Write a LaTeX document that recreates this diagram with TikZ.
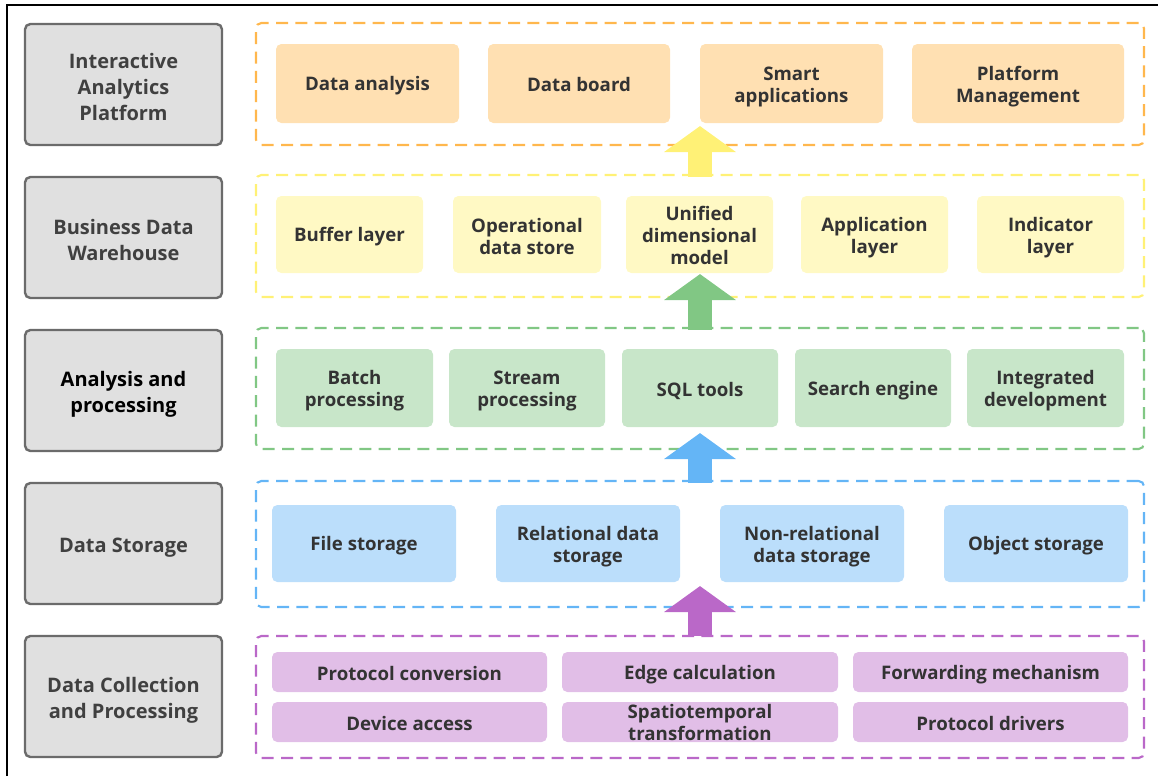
\documentclass[tikz,border=0pt]{standalone}
\usepackage{fontspec}
\setmainfont{Open Sans}
\usetikzlibrary{arrows.meta}
\definecolor{txt}{HTML}{333333}
\definecolor{ltxt}{HTML}{404040}
\definecolor{grayfill}{HTML}{E0E0E0}
\definecolor{grayline}{HTML}{6B6B6B}
\definecolor{ofill}{HTML}{FFE0B2}
\definecolor{oline}{HTML}{FFB74D}
\definecolor{yfill}{HTML}{FFF9C4}
\definecolor{yline}{HTML}{FFF176}
\definecolor{gfill}{HTML}{C8E6C9}
\definecolor{gline}{HTML}{81C784}
\definecolor{bfill}{HTML}{BBDEFB}
\definecolor{bline}{HTML}{64B5F6}
\definecolor{pfill}{HTML}{E1BEE7}
\definecolor{pline}{HTML}{BA68C8}
\newcommand\mystrut{\rule[-0.12\baselineskip]{0pt}{\baselineskip}}
% box node plus its text node, optional vertical offset of the text
\newcommand\pbox[8][0pt]{%
  \node[#3, minimum width={(#6-#4)*0.75pt}, minimum height={(#7-#5)*0.75pt}] (#2) at ({(#4+#6)/2},{(#5+#7)/2}) {};
  \node[#3, draw=none, fill=none] (#2t) at ([yshift=#1]#2.center) {#8};}
\newcommand\pframe[6]{%
  \node[#2, minimum width={(#5-#3)*0.75pt}, minimum height={(#6-#4)*0.75pt}] (#1) at ({(#3+#5)/2},{(#4+#6)/2}) {};}
\tikzset{
  x=0.75pt, y=-0.75pt,
  layerbox/.style={draw=grayline, line width=1.8pt, fill=grayfill, rounded corners=4pt, inner sep=0pt,
    align=center, text=ltxt, font=\fontsize{15}{19.5}\selectfont\bfseries,
    execute at begin node=\mystrut, execute at end node=\mystrut},
  frame/.style={draw=#1, line width=1.6pt, dash pattern=on 9pt off 5.5pt, rounded corners=4pt, inner sep=0pt},
  inner/.style={fill=#1, rounded corners=4pt, inner sep=0pt, align=center, text=txt,
    font=\fontsize{14}{16.5}\selectfont\bfseries,
    execute at begin node=\mystrut, execute at end node=\mystrut},
  uparrow/.style={draw=#1, line width=18pt, -{Triangle[width=53pt, length=19.5pt, fill=#1]}},
}
\begin{document}
\begin{tikzpicture}
\useasboundingbox (0,0) rectangle (1158,776);
\draw[line width=2pt] (7,776) -- (7,5) -- (1158,5);
% left labels
\pbox[-2.6pt]{l1}{layerbox}{25}{24}{222}{145}{Interactive\\Analytics\\Platform}
\pbox[-2.6pt]{l2}{layerbox}{25}{177}{222}{298}{Business Data\\Warehouse}
\pbox[-2.6pt]{l3}{layerbox, text=black}{25}{330}{222}{451}{Analysis and\\processing}
\pbox{l4}{layerbox}{25}{483}{222}{604}{Data Storage}
\pbox[-2.6pt]{l5}{layerbox}{25}{636}{222}{757}{Data Collection\\and Processing}
% frames
\pframe{f1}{frame=oline}{256}{23}{1144}{145}
\pframe{f2}{frame=yline}{256}{175}{1144}{297}
\pframe{f3}{frame=gline}{256}{328}{1144}{449}
\pframe{f4}{frame=bline}{256}{481}{1144}{607}
\pframe{f5}{frame=pline}{256}{636}{1144}{758}
% row 1
\pbox{a1}{inner=ofill}{276}{44}{459}{123}{Data analysis}
\pbox{a2}{inner=ofill}{488}{44}{670}{123}{Data board}
\pbox[-2.25pt]{a3}{inner=ofill}{700}{44}{883}{123}{Smart\\applications}
\pbox[-2.25pt]{a4}{inner=ofill}{912}{44}{1124}{123}{Platform\\Management}
% row 2
\pbox{b1}{inner=yfill}{276}{196}{423}{273}{Buffer layer}
\pbox[-2.25pt]{b2}{inner=yfill}{453}{196}{601}{273}{Operational\\data store}
\pbox[-1.5pt]{b3}{inner=yfill}{626}{196}{773}{273}{Unified\\dimensional\\model}
\pbox[-2.25pt]{b4}{inner=yfill}{801}{196}{948}{273}{Application\\layer}
\pbox[-2.25pt]{b5}{inner=yfill}{977}{196}{1124}{273}{Indicator\\layer}
% row 3
\pbox[-2.25pt]{c1}{inner=gfill}{276}{349}{433}{427}{Batch\\processing}
\pbox[-2.25pt]{c2}{inner=gfill}{449}{349}{605}{427}{Stream\\processing}
\pbox{c3}{inner=gfill}{622}{349}{778}{427}{SQL tools}
\pbox{c4}{inner=gfill}{795}{349}{951}{427}{Search engine}
\pbox[-2.25pt]{c5}{inner=gfill}{967}{349}{1124}{427}{Integrated\\development}
% row 4
\pbox{d1}{inner=bfill}{272}{505}{456}{582}{File storage}
\pbox[-2.25pt]{d2}{inner=bfill}{496}{505}{680}{582}{Relational data\\storage}
\pbox[-2.25pt]{d3}{inner=bfill}{720}{505}{904}{582}{Non-relational\\data storage}
\pbox{d4}{inner=bfill}{944}{505}{1128}{582}{Object storage}
% row 5
\pbox{e1}{inner=pfill}{272}{652}{547}{692}{Protocol conversion}
\pbox{e2}{inner=pfill}{562}{652}{838}{692}{Edge calculation}
\pbox{e3}{inner=pfill}{853}{652}{1128}{692}{Forwarding mechanism}
\pbox{e4}{inner=pfill}{272}{702}{547}{742}{Device access}
\pbox[-1.5pt]{e5}{inner=pfill}{562}{702}{838}{742}{Spatiotemporal\\transformation}
\pbox{e6}{inner=pfill}{853}{702}{1128}{742}{Protocol drivers}
% arrows
\draw[uparrow=yline] ([yshift=-2.25pt]f2.north) -- ([yshift=15pt]f1.south);
\draw[uparrow=gline] ([yshift=-2.25pt]f3.north) -- ([yshift=18pt]f2.south);
\draw[uparrow=bline] ([yshift=-2.25pt]f4.north) -- ([yshift=12.75pt]f3.south);
\draw[uparrow=pline] ([yshift=-0.75pt]f5.north) -- ([yshift=16.5pt]f4.south);
\end{tikzpicture}
\end{document}
